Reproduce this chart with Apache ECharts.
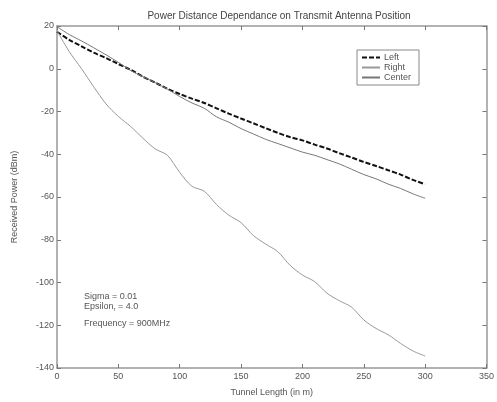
<!DOCTYPE html>
<html>
<head>
<meta charset="utf-8">
<script src="https://cdn.jsdelivr.net/npm/echarts@6/dist/echarts.min.js"></script>
<style>html,body{margin:0;padding:0;background:#fff;}#c{width:497px;height:402px;}</style>
</head>
<body>
<div id="c"></div>
<script>
var distance = [0,10,20,30,40,50,60,70,80,90,100,110,120,130,140,150,160,170,180,190,200,210,220,230,240,250,260,270,280,290,300];
var leftPower = [17.3,13.5,10.5,7.5,5,2.2,-0.5,-3.7,-6.5,-9.4,-11.8,-14,-16,-18.5,-21,-23.3,-25.5,-27.8,-30,-32,-33.5,-35.5,-37.3,-39.5,-41.5,-43.6,-45.5,-47.5,-49.5,-52,-54];
var rightPower = [17.8,8,0,-8.5,-16.5,-22.3,-27,-32.5,-37.5,-40.5,-48.5,-55,-57.3,-63.5,-68.5,-72,-78,-82,-85.6,-92,-96.5,-99.6,-105,-108.5,-111.5,-117.5,-121.5,-124.5,-128.5,-132,-134.4];
var centerPower = [19.7,16,13,9.8,6.5,3,-0.8,-3.7,-6.5,-9.5,-13,-16,-18.5,-22.5,-25,-28,-30.5,-33,-35,-37,-39,-40.5,-42.5,-44.5,-47,-49.5,-51.5,-54,-56,-58.5,-60.6];
var xTicks = [0,50,100,150,200,250,300,350];
var yTicks = [-140,-120,-100,-80,-60,-40,-20,0,20];

function pairs(ys){ return distance.map(function(d,i){ return [d, ys[i]]; }); }

var font = 'Liberation Sans, Arial, sans-serif';
var frame = {show:true, onZero:false, lineStyle:{color:'#999', width:1.5}};
var tickIn = {show:true, inside:true, length:4, lineStyle:{color:'#777'}};

var chart = echarts.init(document.getElementById('c'));
chart.setOption({
  animation:false,
  backgroundColor:'#fff',
  title:{text:'Power Distance Dependance on Transmit Antenna Position', left:274, top:6, textAlign:'center',
    textStyle:{fontFamily:font, fontSize:10, fontWeight:'normal', color:'#444'}},
  grid:{left:57, right:6, top:26, bottom:34},
  legend:{orient:'vertical', left:357, top:50, padding:[3,8,3,4], itemGap:1, itemWidth:18, itemHeight:8,
    borderColor:'#888', borderWidth:1, backgroundColor:'#fff',
    itemStyle:{opacity:0},
    textStyle:{fontFamily:font, fontSize:9, color:'#555', padding:[0,0,0,-1]},
    data:['Left','Right','Center']},
  xAxis:[{type:'value', min:0, max:350, interval:50, position:'bottom',
    axisLine:frame, axisTick:tickIn, splitLine:{show:false},
    axisLabel:{fontFamily:font, fontSize:9, color:'#555', margin:4, showMaxLabel:true},
    name:'Tunnel Length (in m)', nameLocation:'middle', nameGap:20,
    nameTextStyle:{fontFamily:font, fontSize:9, color:'#555'}},
   {type:'value', min:0, max:350, interval:50, position:'top',
    axisLine:frame, axisTick:tickIn, axisLabel:{show:false}, splitLine:{show:false}}],
  yAxis:[{type:'value', min:-140, max:20, interval:20, position:'left',
    axisLine:frame, axisTick:tickIn, splitLine:{show:false},
    axisLabel:{fontFamily:font, fontSize:9, color:'#555', margin:3},
    name:'Received Power (dBm)', nameLocation:'middle', nameGap:38,
    nameTextStyle:{fontFamily:font, fontSize:9, color:'#555'}},
   {type:'value', min:-140, max:20, interval:20, position:'right',
    axisLine:frame, axisTick:tickIn, axisLabel:{show:false}, splitLine:{show:false}}],
  series:[
    {name:'Left', type:'line', data:pairs(leftPower), showSymbol:false, symbol:'none', smooth:0.3,
      lineStyle:{color:'#111', width:2, type:[5,2]}, itemStyle:{color:'#111'}},
    {name:'Right', type:'line', data:pairs(rightPower), showSymbol:false, symbol:'none', smooth:0.3,
      lineStyle:{color:'#999', width:1}, itemStyle:{color:'#999'}},
    {name:'Center', type:'line', data:pairs(centerPower), showSymbol:false, symbol:'none', smooth:0.3,
      lineStyle:{color:'#777', width:1}, itemStyle:{color:'#777'}}
  ],
  graphic:[
    {type:'text', left:84, top:292, style:{text:'Sigma = 0.01', font:'9px '+font, fill:'#555'}},
    {type:'text', left:84, top:302, style:{text:'Epsilon{s|r} = 4.0', font:'9px '+font, fill:'#555',
      rich:{s:{fontSize:6, verticalAlign:'bottom', padding:[6,0,0,0], fill:'#555'}}}},
    {type:'text', left:84, top:319, style:{text:'Frequency = 900MHz', font:'9px '+font, fill:'#555'}}
  ]
});
</script>
</body>
</html>
